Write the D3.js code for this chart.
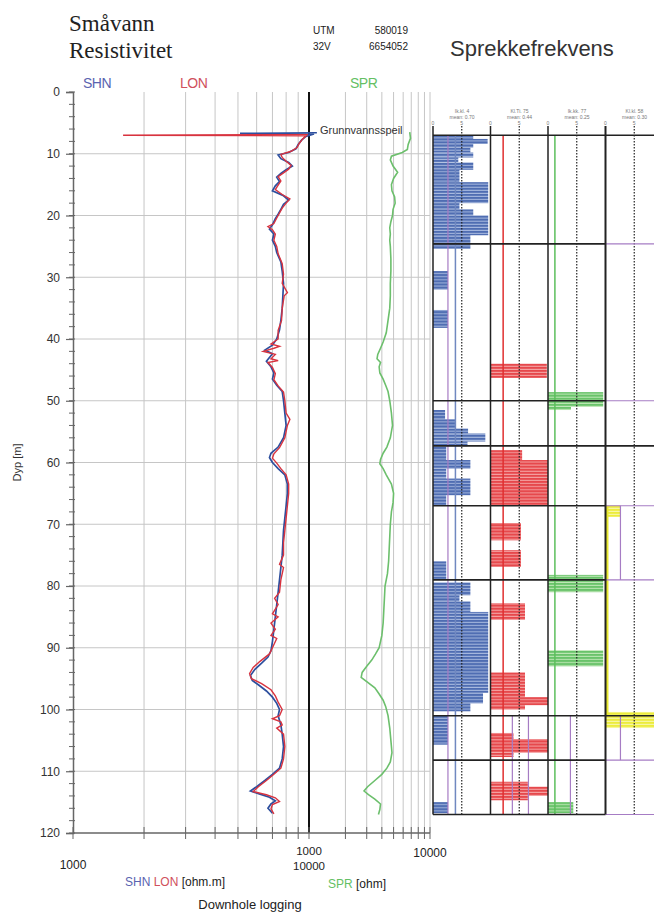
<!DOCTYPE html>
<meta charset="utf-8">
<script src="https://cdn.jsdelivr.net/npm/d3@7"></script>
<style>
  body { margin: 0; background: #fff; }
  text { font-family: "Liberation Sans", Arial, sans-serif; }
</style>
<body>
<script>

// ---- data (depth in m, value) ----
var depthTicks = [0, 10, 20, 30, 40, 50, 60, 70, 80, 90, 100, 110, 120]

// SHN (short normal), ohm.m
var shn = [[6.6, 10800], [6.7, 5100], [6.8, 10500], [7.2, 9700], [7.8, 9300], [8.5, 9000], [9.2, 8800], [9.8, 8200],
  [10.2, 7400], [10.8, 7600], [11.4, 8200], [12, 8500], [12.6, 8000], [13.2, 7600], [13.8, 7300], [14.5, 7500],
  [15.2, 7200], [16, 7000], [16.8, 7800], [17.5, 8200], [18.2, 7800], [19, 7600], [19.8, 7400], [20.5, 7200],
  [21.5, 7000], [22.2, 6800], [23, 7100], [24, 7000], [25, 7200], [26, 7300], [27.5, 7600], [29, 7700], [31, 7800],
  [33, 7750], [35, 7700], [37, 7600], [38.5, 7500], [40, 7300], [41, 7000], [41.8, 6500], [42.4, 7000], [43, 6800],
  [43.6, 6600], [44.5, 6900], [45.5, 7100], [46.5, 7000], [47.5, 7300], [48.5, 7700], [50, 7800], [52, 7900],
  [54, 8000], [56, 7800], [57.5, 7400], [58.5, 6900], [59.2, 6800], [60, 7000], [61, 7400], [62, 7900], [63.5, 8100],
  [65, 8100], [67, 8000], [69, 7900], [71, 7800], [73, 7750], [75, 7700], [77, 7600], [79, 7500], [81, 7400],
  [83, 7300], [85, 7200], [87, 7100], [89, 7000], [90.5, 6900], [91.5, 6700], [92.5, 6300], [93.5, 5900],
  [94.5, 5650], [95.3, 5750], [96, 6100], [97, 6600], [98, 7000], [99, 7300], [100, 7500], [101, 7400],
  [102.5, 7600], [104, 7700], [106, 7800], [108, 7700], [109.5, 7500], [110.5, 7000], [111.5, 6500], [112.5, 6000],
  [113.2, 5650], [113.7, 6200], [114.2, 6800], [114.8, 7200], [115.3, 6900], [116, 6700], [116.8, 7000]]

// LON (long normal), ohm.m
var lon = [[6.9, 9900], [7.0, 1630], [7.1, 9700], [7.6, 9400], [8.3, 9100], [9, 8900], [9.6, 8400], [10.1, 7600],
  [10.6, 7700], [11.2, 8000], [11.9, 8400], [12.5, 8200], [13.1, 7800], [13.7, 7400], [14.4, 7600], [15.1, 7400],
  [15.8, 7200], [16.6, 7700], [17.3, 8300], [18, 8000], [18.8, 7700], [19.6, 7500], [20.4, 7300], [21.3, 7100],
  [21.8, 6700], [22.3, 7000], [23, 7200], [24, 7100], [25, 7300], [26.2, 7400], [27.8, 7700], [29.5, 7800],
  [31, 7700], [32.5, 8100], [33, 7850], [35, 7700], [37, 7650], [38.6, 7400], [40, 7400], [40.8, 6900], [41.2, 7500],
  [41.5, 7100], [42, 6400], [42.5, 7200], [43.2, 6900], [43.5, 7400], [43.8, 6700], [44.6, 7000], [45.6, 7200],
  [46.6, 7100], [47.6, 7400], [48.6, 7800], [50, 7900], [52, 8000], [53, 8300], [54, 8100], [56, 7900], [57.6, 7500],
  [58.6, 7100], [59.3, 7000], [60.1, 7300], [61, 7600], [62, 8000], [63.5, 8200], [65, 8200], [67, 8100], [69, 8000],
  [71, 7900], [73, 7800], [75, 7800], [76.5, 7500], [77, 7800], [79, 7600], [81, 7500], [82, 7150], [83, 7400],
  [84.5, 7000], [85, 7400], [86, 6900], [87, 7200], [88, 6900], [88.5, 7300], [90, 7000], [91, 6800], [92.2, 6200],
  [93.2, 5800], [94.2, 5600], [95, 5700], [95.8, 6300], [96.8, 6900], [97.8, 7200], [98.8, 7400], [100, 7700],
  [101, 7500], [101.5, 7000], [102, 7600], [102.5, 7700], [103, 7300], [104, 7800], [106, 7900], [108, 7800],
  [109.5, 7600], [110.5, 7100], [111.5, 6600], [112.5, 6100], [113.3, 5800], [113.8, 6600], [114.3, 7200],
  [114.9, 7500], [115.4, 7000], [116.1, 6900], [116.9, 7100]]

// SPR (single point resistance), ohm
var spr = [[6.5, 6800], [7.5, 6900], [8.5, 6600], [9.3, 6500], [9.8, 5900], [10.4, 4800], [11, 4700], [12, 4950],
  [13, 5400], [14, 5000], [15, 4800], [16, 4850], [17, 5100], [18, 5150], [19, 4950], [20, 4900], [21, 4750],
  [22, 4650], [23, 4700], [24, 4650], [25, 4700], [27, 4750], [29, 4750], [31, 4700], [33, 4700], [35, 4650],
  [37, 4500], [39, 4350], [40.5, 4100], [41.5, 3900], [42.5, 3700], [43.2, 3650], [43.8, 3900], [44.5, 3800],
  [45.5, 3850], [46.5, 4100], [47.5, 4300], [48.5, 4500], [50, 4650], [52, 4800], [54, 4900], [56, 4700],
  [57.5, 4400], [58.5, 4100], [59.5, 3900], [60.2, 3850], [61, 4100], [62, 4350], [63.5, 4800], [65, 5000],
  [66.5, 4950], [68, 4800], [70, 4700], [72, 4650], [74, 4600], [76, 4550], [78, 4450], [80, 4250], [82, 4200],
  [84, 4150], [86, 4100], [88, 4000], [90, 3800], [91, 3550], [92, 3300], [93, 3000], [94, 2750], [94.8, 2700],
  [95.5, 3000], [96.5, 3500], [97.5, 3800], [98.5, 4100], [99.5, 4300], [101, 4500], [103, 4650], [105, 4750],
  [107, 4850], [108.5, 4700], [109.5, 4400], [110.5, 4000], [111.5, 3500], [112.5, 3050], [113.2, 2850],
  [113.8, 3100], [114.5, 3500], [115.3, 3900], [116.2, 3850], [117, 3750]]

// fracture frequency columns: [top, bottom, value 0-10]
var barsBlue = [[7, 7.6, 7], [7.6, 8.4, 9.5], [8.4, 9, 7], [9, 9.8, 6.5], [9.8, 10.6, 7], [10.6, 11.4, 4.4],
  [11.4, 12.6, 7], [12.6, 14.6, 4.6], [14.6, 18, 9.6], [18, 19, 4.6], [19, 20, 7], [20, 23.2, 9.6], [23.2, 25.4, 6.5],
  [29, 32, 2.6], [35.3, 38.2, 2.6], [51.5, 53, 2.1], [53, 54.5, 4], [54.5, 55.3, 6.1], [55.3, 56.6, 9.1],
  [56.6, 57.4, 6], [57.4, 59.6, 2.3], [59.6, 61, 6.5], [61, 62.6, 2.3], [62.6, 65.3, 6.5], [65.3, 67, 2.3],
  [76, 79, 2.3], [79.4, 81.5, 6.5], [81.5, 82.5, 4.6], [82.5, 84.2, 6.5], [84.2, 97.3, 9.6], [97.3, 99, 8.7],
  [99, 100.3, 6.5], [101, 105.7, 2.6], [115, 116.8, 2.6]]
var barsRed = [[44, 46.3, 9.8], [58, 59.6, 5.5], [59.6, 66.9, 10], [69.8, 72.6, 5.3], [74.2, 76.9, 5.3],
  [82.8, 85.5, 6], [94, 98, 6], [98, 99.3, 10], [99.3, 100, 6], [103.8, 104.8, 4], [104.8, 107, 10],
  [107, 107.7, 4], [111.7, 112.5, 6.5], [112.5, 114, 10], [114, 114.7, 6.5]]
var barsGreen = [[48.6, 51, 9.6], [51, 51.5, 4], [78.2, 81, 9.6], [90.4, 93, 9.6], [115, 116.8, 4.4]]
var barsYellow = [[66.9, 68.8, 2.6], [100.4, 103, 9]]

var colTitles = ["Ik.kl. 4", "Kl.Ti. 75", "Ik.kk. 77", "Kl.kl. 58"]
var colMeans = ["mean:  0.70", "mean:  0.44", "mean:  0.25", "mean:  0.30"]

// [column, value, from depth, to depth, kind]
var refLines = [[0, 2.6, 7, 117, "sub"], [0, 3.9, 7, 117, "mean"], [1, 2.2, 7, 117, "mean"],
  [1, 3.8, 101, 117, "sub"], [1, 6.6, 101, 117, "sub"], [2, 1.2, 7, 117, "mean"], [2, 3.9, 101, 117, "sub"],
  [3, 0.3, 67, 101, "mean"], [3, 2.6, 67, 79, "sub"], [3, 2.6, 101, 108.2, "sub"]]

var sections = [7, 24.6, 50, 57.3, 67, 79, 101, 108.2, 117]
var fullSections = [7, 57.3, 101]

// ---- layout ----
var width = 654
var height = 913

var svg = d3.select("body").append("svg")
            .attr("width", width)
            .attr("height", height)
            .style("display", "block")

var y = d3.scaleLinear().domain([0, 120]).range([92, 833])
var xRes = d3.scaleLog().domain([1000, 10000]).range([73, 309])
var xSpr = d3.scaleLog().domain([1000, 10000]).range([309, 430])

// titles
svg.append("text").attr("x", 69).attr("y", 31).text("Småvann")
   .style("font-family", "Liberation Serif").style("font-size", "23px").attr("fill", "#222")
svg.append("text").attr("x", 69).attr("y", 58).text("Resistivitet")
   .style("font-family", "Liberation Serif").style("font-size", "23px").attr("fill", "#222")
svg.append("text").attr("x", 313).attr("y", 34).text("UTM").style("font-size", "10px").attr("fill", "#222")
svg.append("text").attr("x", 408).attr("y", 34).attr("text-anchor", "end").text("580019").style("font-size", "10px").attr("fill", "#222")
svg.append("text").attr("x", 313).attr("y", 50).text("32V").style("font-size", "10px").attr("fill", "#222")
svg.append("text").attr("x", 408).attr("y", 50).attr("text-anchor", "end").text("6654052").style("font-size", "10px").attr("fill", "#222")
svg.append("text").attr("x", 450).attr("y", 56).text("Sprekkefrekvens")
   .style("font-size", "22px").attr("fill", "#333")

svg.append("text").attr("x", 83).attr("y", 88).text("SHN").style("font-size", "14px").attr("fill", "#5a63b0").attr("letter-spacing", "-0.5")
svg.append("text").attr("x", 180).attr("y", 88).text("LON").style("font-size", "14px").attr("fill", "#d0505c").attr("letter-spacing", "-0.5")
svg.append("text").attr("x", 350).attr("y", 88).text("SPR").style("font-size", "14px").attr("fill", "#64c064").attr("letter-spacing", "-0.5")

// grid
var grid = svg.append("g")
grid.selectAll("line.h").data(depthTicks.slice(1, -1)).enter().append("line").attr("class", "h")
    .attr("x1", 73).attr("x2", 430).attr("y1", y).attr("y2", y)
    .attr("stroke", "#c6c6c6").attr("stroke-width", 1)
grid.selectAll("line.vr").data(xRes.ticks().slice(1, -1)).enter().append("line").attr("class", "vr")
    .attr("x1", xRes).attr("x2", xRes).attr("y1", y(0)).attr("y2", y(120))
    .attr("stroke", "#c6c6c6").attr("stroke-width", 1)
grid.selectAll("line.vs").data(xSpr.ticks().slice(1)).enter().append("line").attr("class", "vs")
    .attr("x1", xSpr).attr("x2", xSpr).attr("y1", y(0)).attr("y2", y(120))
    .attr("stroke", "#c6c6c6").attr("stroke-width", 1)
svg.append("line").attr("x1", xRes(10000)).attr("x2", xRes(10000)).attr("y1", y(0)).attr("y2", y(120))
   .attr("stroke", "#111").attr("stroke-width", 2)

// y axis
var yAxis = svg.append("g").attr("transform", "translate(73,0)")
    .call(d3.axisLeft(y).tickValues(depthTicks).tickSize(7).tickPadding(6))
yAxis.select(".domain").attr("stroke", "#666").attr("stroke-width", 1.5)
yAxis.selectAll(".tick line").attr("stroke", "#666").attr("stroke-width", 1.2)
yAxis.selectAll("text").style("font-size", "12px").attr("fill", "#333")
svg.append("g").selectAll("line").data(y.ticks(60)).enter().append("line")
   .attr("x1", 69).attr("x2", 75).attr("y1", y).attr("y2", y)
   .attr("stroke", "#666").attr("stroke-width", 1)
svg.append("text").attr("transform", "translate(21," + y(60) + ") rotate(-90)")
   .attr("text-anchor", "middle").text("Dyp  [m]").style("font-size", "11px").attr("fill", "#333")

// bottom axis
svg.append("line").attr("x1", 73).attr("x2", 430).attr("y1", y(120)).attr("y2", y(120))
   .attr("stroke", "#666").attr("stroke-width", 1.5)
var bTicks = xRes.ticks().map(xRes).concat(xSpr.ticks().slice(1).map(xSpr))
svg.append("g").selectAll("line").data(bTicks).enter().append("line")
   .attr("x1", d => d).attr("x2", d => d).attr("y1", y(120) - 6).attr("y2", y(120) + 6)
   .attr("stroke", "#666").attr("stroke-width", 1)

svg.append("text").attr("x", xRes(1000)).attr("y", 869).attr("text-anchor", "middle").text("1000").style("font-size", "12px").attr("fill", "#222")
svg.append("text").attr("x", xRes(10000)).attr("y", 870).attr("text-anchor", "middle").text("10000").style("font-size", "11.5px").attr("fill", "#222")
svg.append("text").attr("x", xSpr(1000)).attr("y", 855).attr("text-anchor", "middle").text("1000").style("font-size", "11.5px").attr("fill", "#222")
svg.append("text").attr("x", xSpr(10000)).attr("y", 857).attr("text-anchor", "middle").text("10000").style("font-size", "12px").attr("fill", "#222")

var u1 = svg.append("text").attr("x", 125).attr("y", 886).style("font-size", "12px")
u1.append("tspan").text("SHN ").attr("fill", "#5a63b0")
u1.append("tspan").text("LON ").attr("fill", "#d0505c")
u1.append("tspan").text("[ohm.m]").attr("fill", "#222")
var u2 = svg.append("text").attr("x", 328).attr("y", 888).style("font-size", "12px")
u2.append("tspan").text("SPR ").attr("fill", "#64c064")
u2.append("tspan").text("[ohm]").attr("fill", "#222")
svg.append("text").attr("x", 250).attr("y", 909).attr("text-anchor", "middle").text("Downhole logging")
   .style("font-size", "13px").attr("fill", "#222")

// curves
var resLine = d3.line().x(d => xRes(d[1])).y(d => y(d[0]))
var sprLine = d3.line().x(d => xSpr(d[1])).y(d => y(d[0]))
svg.append("path").attr("d", sprLine(spr)).attr("fill", "none").attr("stroke", "#6cbf6c").attr("stroke-width", 1.6)
svg.append("path").attr("d", resLine(shn)).attr("fill", "none").attr("stroke", "#2d4f9e").attr("stroke-width", 1.7)
svg.append("path").attr("d", resLine(lon)).attr("fill", "none").attr("stroke", "#d8333f").attr("stroke-width", 1.4)

svg.append("text").attr("x", 320).attr("y", 134).text("Grunnvannsspeil").style("font-size", "11px").attr("fill", "#333")

// ---- fracture frequency panel ----
var colLeft = [433, 490.5, 548, 605.5]
var colW = 57.5
var xCol = colLeft.map(l => d3.scaleLinear().domain([0, 10]).range([l, l + colW]))
var colColors = [["#4f6db2", "#a7b9df"], ["#e6484c", "#f4a2a2"], ["#69c36a", "#bfe7b6"], ["#ecec3c", "#f7f7a8"]]
var meanColors = ["#7088c0", "#e03030", "#5cbf5c", "#e8e830"]
var step = y(0.5) - y(0)

var defs = svg.append("defs")
colColors.forEach(function(c, i) {
  var p = defs.append("pattern").attr("id", "stripe" + i).attr("patternUnits", "userSpaceOnUse")
      .attr("width", 10).attr("height", step).attr("patternTransform", "translate(0," + y(0) + ")")
  p.append("rect").attr("width", 10).attr("height", step).attr("fill", c[0])
  p.append("rect").attr("y", step - 1).attr("width", 10).attr("height", 1).attr("fill", c[1])
})

var panel = svg.append("g")
;[barsBlue, barsRed, barsGreen, barsYellow].forEach(function(bars, i) {
  panel.append("g").selectAll("rect").data(bars).enter().append("rect")
       .attr("x", xCol[i](0)).attr("y", d => y(d[0]))
       .attr("width", d => xCol[i](d[2]) - xCol[i](0)).attr("height", d => y(d[1]) - y(d[0]))
       .attr("fill", "url(#stripe" + i + ")")
})

// dashed mid lines
panel.append("g").selectAll("line").data(xCol).enter().append("line")
     .attr("x1", s => s(5)).attr("x2", s => s(5)).attr("y1", 126).attr("y2", y(117))
     .attr("stroke", "#222").attr("stroke-width", 1.2).attr("stroke-dasharray", "1.5 1.5")

// reference lines
panel.append("g").selectAll("line").data(refLines).enter().append("line")
     .attr("x1", d => xCol[d[0]](d[1])).attr("x2", d => xCol[d[0]](d[1]))
     .attr("y1", d => y(d[2])).attr("y2", d => y(d[3]))
     .attr("stroke", d => d[4] == "mean" ? meanColors[d[0]] : "#a67cc4")
     .attr("stroke-width", d => d[4] == "mean" ? (d[0] == 3 ? 2.5 : 1.5) : 1.2)

// section lines
panel.append("g").selectAll("line").data(sections).enter().append("line")
     .attr("x1", colLeft[0]).attr("x2", colLeft[3]).attr("y1", y).attr("y2", y)
     .attr("stroke", "#222").attr("stroke-width", 1.6)
panel.append("g").selectAll("line").data(sections).enter().append("line")
     .attr("x1", colLeft[3]).attr("x2", width).attr("y1", y).attr("y2", y)
     .attr("stroke", d => fullSections.indexOf(d) >= 0 ? "#222" : "#a67cc4")
     .attr("stroke-width", d => fullSections.indexOf(d) >= 0 ? 1.6 : 1.2)

// column borders
panel.append("g").selectAll("line").data(colLeft).enter().append("line")
     .attr("x1", d => d).attr("x2", d => d).attr("y1", 126).attr("y2", y(117))
     .attr("stroke", "#222").attr("stroke-width", (d, i) => i == 3 ? 2 : 1.5)

// column headers
var hdr = panel.append("g").style("font-size", "5px").attr("fill", "#777")
colLeft.forEach(function(l, i) {
  hdr.append("text").attr("x", l + 29).attr("y", 113).attr("text-anchor", "middle").text(colTitles[i])
  hdr.append("text").attr("x", l + 29).attr("y", 119).attr("text-anchor", "middle").text(colMeans[i])
  hdr.append("text").attr("x", xCol[i](0)).attr("y", 125).attr("text-anchor", "middle").text("0")
  hdr.append("text").attr("x", xCol[i](5)).attr("y", 125).attr("text-anchor", "middle").text("5")
})

</script>
</body>
